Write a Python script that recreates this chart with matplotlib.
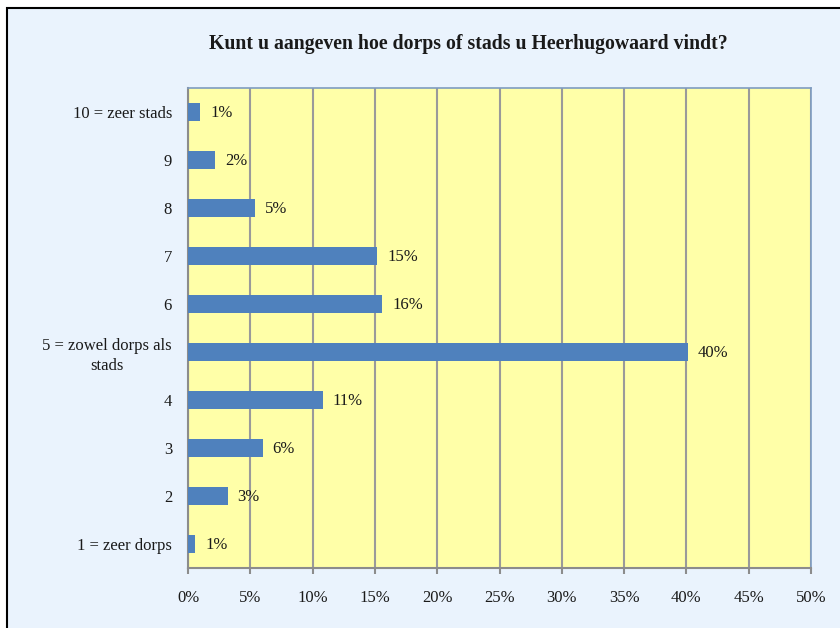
import matplotlib
matplotlib.use("Agg")
import matplotlib.pyplot as plt
from matplotlib.patches import Rectangle
from matplotlib.ticker import MultipleLocator, FuncFormatter

categories = ["1 = zeer dorps", "2", "3", "4", "5 = zowel dorps als\nstads",
              "6", "7", "8", "9", "10 = zeer stads"]
values = [0.6, 3.2, 6.0, 10.8, 40.1, 15.6, 15.2, 5.4, 2.2, 1.0]
title = "Kunt u aangeven hoe dorps of stads u Heerhugowaard vindt?"

FONT = "Liberation Serif"
TEXT = "#1a1a1a"
BAR = "#4F81BD"
GRID = "#9a9a9a"

W, H = 840, 628
fig = plt.figure(figsize=(W / 100, H / 100), dpi=100)
fig.patch.set_facecolor("white")

# chart frame (light blue panel with a dark outline)
frame = Rectangle((7 / W, -0.05), 1.1, 1 - 8 / H + 0.05, transform=fig.transFigure,
                  facecolor="#EAF3FD", edgecolor="black", linewidth=1.5, zorder=-5)
fig.add_artist(frame)

ax = fig.add_axes([188 / W, 1 - 568 / H, (811 - 188) / W, (568 - 88) / H])
ax.set_zorder(2)
ax.set_facecolor("#FFFFA8")

y = list(range(len(categories)))
ax.barh(y, values, height=0.38, color=BAR, zorder=3)

for yi, v in zip(y, values):
    ax.annotate(f"{v:.0f}%", (v, yi), xytext=(7, -1), textcoords="offset points",
                va="center", ha="left", fontsize=12, family=FONT, color=TEXT, zorder=4)

ax.set_xlim(0, 50)
ax.set_ylim(-0.5, len(categories) - 0.5)
ax.xaxis.set_major_locator(MultipleLocator(5))
ax.xaxis.set_major_formatter(FuncFormatter(lambda x, _: f"{x:.0f}%"))
ax.set_yticks(y)
ax.set_yticklabels(categories, multialignment="center", linespacing=1.3)

ax.grid(axis="x", color=GRID, linewidth=1.5, zorder=1)
ax.set_axisbelow(True)

for side in ("top", "right"):
    ax.spines[side].set_color("#7f9cc0")
    ax.spines[side].set_linewidth(1.2)
for side in ("left", "bottom"):
    ax.spines[side].set_color("#8c8c8c")
    ax.spines[side].set_linewidth(1.5)

ax.tick_params(axis="x", length=4, width=1.5, color="#8c8c8c", pad=12,
               labelsize=12, labelcolor=TEXT)
ax.tick_params(axis="y", length=0, pad=11.5, labelsize=12, labelcolor=TEXT)
for lab in ax.get_xticklabels() + ax.get_yticklabels():
    lab.set_family(FONT)

fig.text(468 / W, 1 - 44 / H, title, ha="center", va="center", fontsize=14.2,
         fontweight="bold", family=FONT, color=TEXT)

fig.savefig("out.png", dpi=100)
